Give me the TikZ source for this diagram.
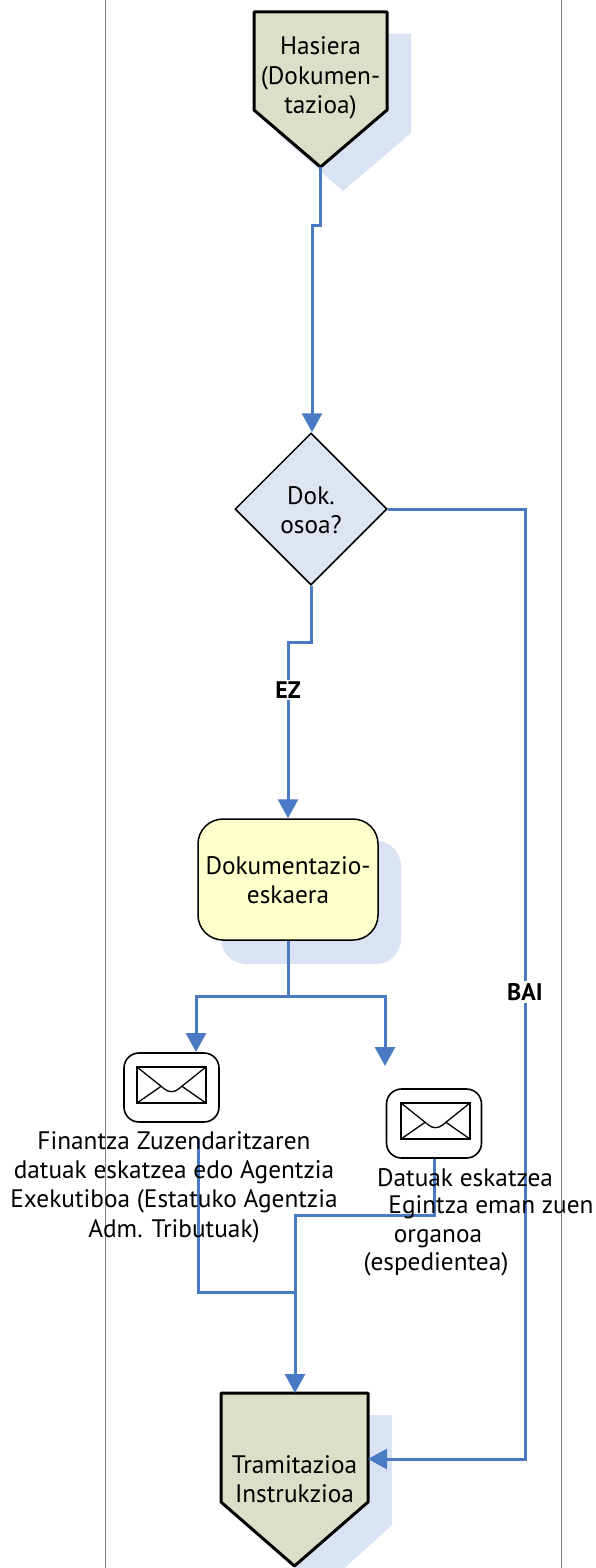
\documentclass[tikz,border=0pt]{standalone}
\usepackage{fontspec}
\setmainfont{PT Sans}
\usetikzlibrary{shapes.geometric,arrows.meta}
\definecolor{flow}{HTML}{4A7AC4}
\definecolor{shade}{HTML}{DAE3F3}
\definecolor{olive}{HTML}{DBDFC8}
\definecolor{pale}{HTML}{DEE5F1}
\definecolor{butter}{HTML}{FFFFCC}
\definecolor{lane}{HTML}{808080}
\tikzset{
  x=1pt,y=-1pt,
  txt/.style={font=\fontsize{25.3}{29.3}\selectfont,align=center,inner sep=0pt,text=black},
  conn/.style={draw=flow,line width=3pt,line join=miter},
  arrowed/.style={conn,-{Triangle[length=19pt,width=20pt]}},
  pent/.style={draw=black,line width=3pt,line join=round,fill=olive},
  shadowfill/.style={fill=shade,draw=none},
  lanerule/.style={draw=lane,line width=1pt},
  envbox/.style={draw=black,line width=1.6pt,rounded corners=15pt,fill=white,minimum width=95pt,minimum height=69pt,inner sep=0pt},
  envline/.style={draw=black,line width=1.3pt,line join=miter},
  lab/.style={font=\fontsize{24}{28}\selectfont\bfseries,fill=white,inner sep=2pt,text=black}
}
\newcommand{\mailicon}[2]{%
  \begin{scope}[shift={(#1,#2)}]
    \draw[envline] (-34.5,-18) rectangle (34.5,18);
    \draw[envline] (-34.5,-18) -- (-7,4) .. controls (-3,7.5) and (3,7.5) .. (7,4) -- (34.5,-18);
    \draw[envline] (-34.5,18) -- (-10,1);
    \draw[envline] (34.5,18) -- (10,1);
  \end{scope}}
\begin{document}
\begin{tikzpicture}
\useasboundingbox[fill=white] (0,0) rectangle (595,1568);
\draw[lanerule] (105.5,0) -- (105.5,1568);
\draw[lanerule] (561,0) -- (561,1568);
% shadows
\fill[shadowfill] (277,34) -- (411,34) -- (411,133) -- (343,191) -- (277,133) -- cycle;
\fill[shadowfill] (245,1415) -- (392,1415) -- (392,1525) -- (320,1590) -- (245,1525) -- cycle;
\fill[shadowfill,rounded corners=25pt] (221,841) rectangle (401,964);
% start shape
\draw[pent] (254,12) -- (387,12) -- (387,110) -- (320.5,167) -- (254,110) -- cycle;
\coordinate (starttip) at (320.5,167);
\node[txt] (start) at (320.5,78) {Hasiera\\(Dokumen-\\tazioa)};
% decision
\node[diamond,draw=black,line width=1.5pt,fill=pale,minimum width=152pt,minimum height=152pt,inner sep=0pt,aspect=1] (dec) at (311,509) {};
\node[txt] at ([yshift=-1pt]dec.center) {Dok.\\osoa?};
% task
\node[draw=black,line width=1.5pt,fill=butter,rounded corners=25pt,minimum width=180pt,minimum height=121pt,inner sep=0pt] (task) at (288,879.5) {};
\node[txt] at ([yshift=-0.5pt]task.center) {Dokumentazio-\\eskaera};
% mail
\node[envbox] (m1) at (171.5,1087.5) {};
\mailicon{171.5}{1085}
\node[envbox] (m2) at (434,1123.5) {};
\mailicon{435.5}{1121}
% end
\draw[pent] (221,1393) -- (368,1393) -- (368,1502) -- (294.5,1566) -- (221,1502) -- cycle;
\coordinate (endtop) at (294.5,1393);
\coordinate (endright) at (368,1459);
\node[txt] (endtext) at (294.5,1479.5) {Tramitazioa\\Instrukzioa};
% connectors
\draw[arrowed] (starttip) -- (320.5,225) -- (312,225) -- (dec.north -| 312,0);
\draw[arrowed] (dec.south) -- (311,642) -- (288,642) -- (task.north);
\draw[arrowed] (dec.east) -- (525,509) -- (525,1459) -- (endright);
\draw[conn] (task.south) -- (288,996) coordinate (fork);
\draw[arrowed] (fork) -- (196,996) -- (196,1052) coordinate (m1in);
\draw[arrowed] (fork) -- (385,996) -- (385,1066) coordinate (m2in);
\coordinate (m1out) at (198,1138);
\draw[conn] (m1out) -- (198,1292) -- (295,1292);
\draw[arrowed] (m2.south -| 434,0) -- (434,1215) -- (295,1215) -- (endtop -| 295,0);
\node[lab] (ez) at (288,690) {EZ};
\node[lab] (bai) at (525,992) {BAI};
% labels
\node[txt] (m1text) at (174,1187) {Finantza Zuzendaritzaren\\datuak eskatzea edo Agentzia\\Exekutiboa (Estatuko Agentzia\\Adm. Tributuak)};
\node[txt] (m2a) at (465,1178) {Datuak eskatzea};
\node[txt] (m2b) at (491,1207) {Egintza eman zuen};
\node[txt] (m2c) at (438,1239) {organoa};
\node[txt] (m2d) at (436,1264) {(espedientea)};
\end{tikzpicture}
\end{document}
